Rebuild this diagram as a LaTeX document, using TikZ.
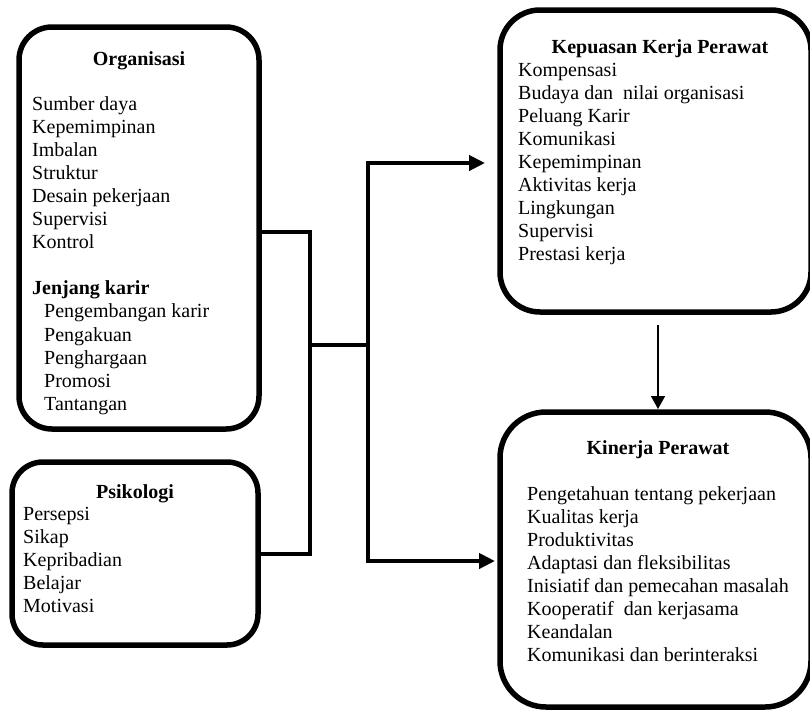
\documentclass[tikz,border=0pt]{standalone}
\usepackage{fontspec}
\setmainfont{Liberation Serif}
\usetikzlibrary{arrows.meta,calc}
\tikzset{
  bigtip/.tip={Triangle[length=16pt,width=15pt]},
  smalltip/.tip={Triangle[length=13pt,width=14pt]}
}
\begin{document}
\begin{tikzpicture}[x=1pt,y=-1pt,
  box/.style={draw, line width=5.5pt, inner sep=0pt, outer sep=0pt},
  conn/.style={line width=4.5pt},
  item/.style={anchor=base west, inner sep=0pt, font=\fontsize{20}{23}\selectfont},
  ttl/.style={anchor=base, inner sep=0pt, font=\fontsize{20}{23}\selectfont\bfseries}]
\useasboundingbox (0,0) rectangle (810,710);
\clip (0,0) rectangle (810,710);

% boxes
\node[box, minimum width=240pt, minimum height=402pt, rounded corners=33pt] (org) at (139,228) {};
\node[box, minimum width=246pt, minimum height=183pt, rounded corners=31pt] (psi) at (135,553.5) {};
\node[box, minimum width=311pt, minimum height=302pt, rounded corners=40pt] (kep) at (655.5,161) {};
\node[box, minimum width=311pt, minimum height=295pt, rounded corners=46pt] (kin) at (655.5,559.5) {};

% Organisasi
\node[ttl] (orgT) at (139,65) {Organisasi};
\foreach \t [count=\i from 0] in {Sumber daya,Kepemimpinan,Imbalan,Struktur,Desain pekerjaan,Supervisi,Kontrol}
  \node[item] (orgI\i) at (32,110+23.1*\i) {\t};
\node[item, font=\fontsize{20}{23}\selectfont\bfseries] (orgJ) at (32,294.8) {Jenjang karir};
\foreach \t [count=\i from 0] in {Pengembangan karir,Pengakuan,Penghargaan,Promosi,Tantangan}
  \node[item] (orgS\i) at (44,317.9+23.1*\i) {\t};

% Psikologi
\node[ttl] (psiT) at (135,498) {Psikologi};
\foreach \t [count=\i from 0] in {Persepsi,Sikap,Kepribadian,Belajar,Motivasi}
  \node[item] (psiI\i) at (23,520+23*\i) {\t};

% Kepuasan
\node[ttl] (kepT) at (660,53) {Kepuasan Kerja Perawat};
\foreach \t [count=\i from 0] in {Kompensasi,Budaya dan~ nilai organisasi,Peluang Karir,Komunikasi,Kepemimpinan,Aktivitas kerja,Lingkungan,Supervisi,Prestasi kerja}
  \node[item] (kepI\i) at (518,76+23.1*\i) {\t};

% Kinerja
\node[ttl] (kinT) at (658,454) {Kinerja Perawat};
\foreach \t [count=\i from 0] in {Pengetahuan tentang pekerjaan,Kualitas kerja,Produktivitas,Adaptasi dan fleksibilitas,Inisiatif dan pemecahan masalah,Kooperatif~ dan kerjasama,Keandalan,Komunikasi dan berinteraksi}
  \node[item] (kinI\i) at (527,500+23.1*\i) {\t};

% connectors
\coordinate (jA) at (310,232);
\coordinate (jB) at (310,554);
\coordinate (jM) at (310,345);
\coordinate (jN) at (368,345);
\coordinate (jT) at (368,163);
\coordinate (jU) at (368,561);
\draw[conn] (org.east |- jA) -- (jA) -- (jB) -- (psi.east |- jB);
\draw[conn] (jM) -- (jN);
\draw[conn, bigtip-bigtip] ($(kep.west |- jT)+(-15,0)$) -- (jT) -- (jU) -- ($(kin.west |- jU)+(-5,0)$);
\draw[line width=1.5pt, -smalltip] ($(kep.south)+(2.5,13)$) -- ($(kin.north)+(2.5,-3)$);
\end{tikzpicture}
\end{document}
